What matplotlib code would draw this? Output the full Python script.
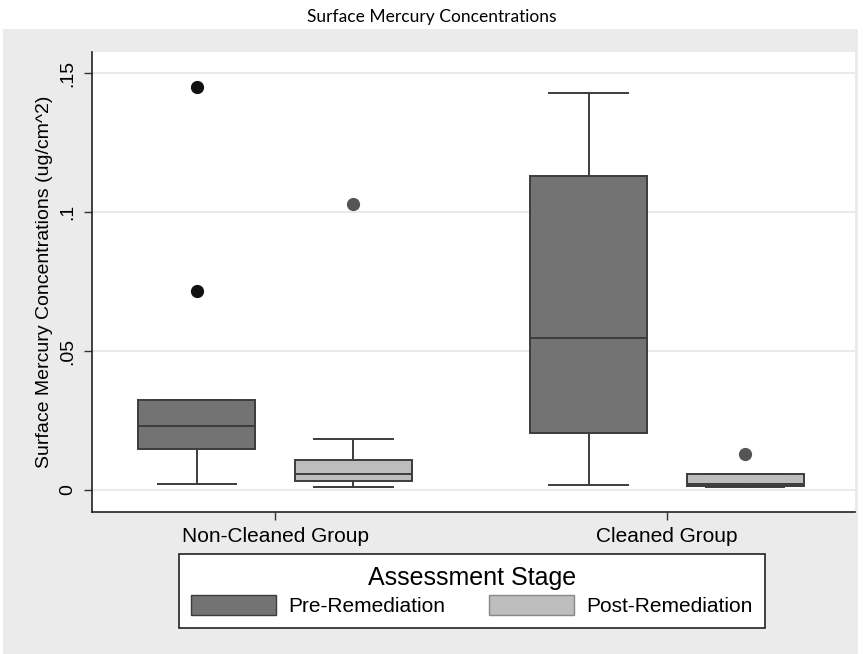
import numpy as np
import matplotlib
matplotlib.use('Agg')
import matplotlib.pyplot as plt
from matplotlib.patches import Rectangle, Patch

plt.rcParams['font.family'] = ['Liberation Sans', 'DejaVu Sans']

groups = ['Non-Cleaned Group', 'Cleaned Group']
stages = ['Pre-Remediation', 'Post-Remediation']

# five-number summaries: (low whisker, q1, median, q3, high whisker)
pre_stats = [(0.0020, 0.0146, 0.0230, 0.0324, 0.0324),
             (0.0018, 0.0206, 0.0546, 0.1131, 0.1428)]
post_stats = [(0.0010, 0.0031, 0.0058, 0.0108, 0.0183),
              (0.0010, 0.0015, 0.0021, 0.0056, 0.0056)]
pre_outliers = [[0.145, 0.0717], []]
post_outliers = [[0.103], [0.0129]]

y_ticks = [0, 0.05, 0.1, 0.15]
y_tick_labels = ['0', '.05', '.1', '.15']

pre_color = '#737373'
post_color = '#bdbdbd'
edge_color = '#3c3c3c'

fig = plt.figure(figsize=(8.63, 6.54), dpi=100)
fig.patches.append(Rectangle((3 / 863, 0), 855 / 863, 625 / 654, transform=fig.transFigure,
                             facecolor='#ebebeb', edgecolor='none', zorder=-10))
ax = fig.add_axes([92 / 863, 142 / 654, 763 / 863, 460 / 654])
ax.set_facecolor('white')


def make_stats(s, fl):
    return dict(whislo=s[0], q1=s[1], med=s[2], q3=s[3], whishi=s[4], fliers=fl)


pos = np.arange(len(groups))
offset = 0.2
width = 0.298

for stats, outl, shift, color, fcol in [(pre_stats, pre_outliers, -offset, pre_color, '#111111'),
                                        (post_stats, post_outliers, offset, post_color, '#555555')]:
    ax.bxp([make_stats(s, f) for s, f in zip(stats, outl)], positions=pos + shift,
           widths=width, patch_artist=True,
           boxprops=dict(facecolor=color, edgecolor=edge_color, linewidth=1.4),
           medianprops=dict(color=edge_color, linewidth=1.4),
           whiskerprops=dict(color=edge_color, linewidth=1.4),
           capprops=dict(color=edge_color, linewidth=1.4),
           flierprops=dict(marker='o', markerfacecolor=fcol, markeredgecolor=fcol, markersize=8.5),
           capwidths=width * 0.67, manage_ticks=False)

ax.set_xlim(-0.467, 1.48)
ax.set_ylim(-0.0079, 0.1576)
ax.set_xticks(pos)
ax.set_xticklabels(groups, fontsize=15)
ax.set_yticks(y_ticks)
ax.set_yticklabels(y_tick_labels, fontsize=14, rotation=90, va='center')
ax.tick_params(axis='both', length=6, width=1, color='#333333', pad=5)
ax.yaxis.grid(True, color='#eaeaea', linewidth=1.5)
ax.set_axisbelow(True)
for side in ['top', 'right']:
    ax.spines[side].set_visible(False)
for side in ['left', 'bottom']:
    ax.spines[side].set_color('#222222')
    ax.spines[side].set_linewidth(1.2)
ax.set_ylabel('Surface Mercury Concentrations (ug/cm^2)', fontsize=14, labelpad=5)

fig.text(0.5, 1 - 17 / 654, 'Surface Mercury Concentrations', ha='center', va='center',
         fontsize=12.5, family=['Lato', 'DejaVu Sans'])

handles = [Patch(facecolor=pre_color, edgecolor=edge_color),
           Patch(facecolor=post_color, edgecolor='#888888')]
leg = fig.legend(handles, stages, loc='center', bbox_to_anchor=(472 / 863, 1 - 591 / 654),
                 ncol=2, fontsize=15, title='Assessment Stage', title_fontsize=18,
                 handlelength=4.05, handleheight=1.1, handletextpad=0.62, columnspacing=2.1,
                 fancybox=False, edgecolor='#222222', framealpha=1, borderpad=0.6,
                 labelspacing=0.2)
leg.get_frame().set_linewidth(1.2)

fig.savefig('out.png', dpi=100)
